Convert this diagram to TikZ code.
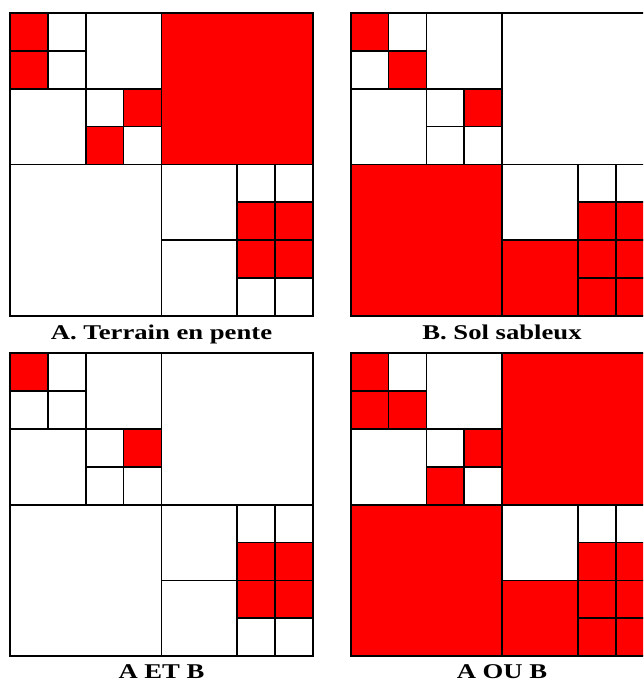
\documentclass[tikz,border=0pt]{standalone}
\usepackage{fontspec}
\setmainfont{Liberation Serif}
\newfontfamily\capfont[FakeStretch=1.27]{Liberation Serif}

% grid lines of the quadtree, in cell units (8 x 8)
\newcommand{\quadlines}{%
    \draw (0,0) rectangle (8,8);
    \draw (4,0) -- (4,8) (0,4) -- (8,4);
    \draw (2,0) -- (2,4) (0,2) -- (4,2);
    \draw (1,0) -- (1,2) (0,1) -- (2,1);
    \draw (3,2) -- (3,4) (2,3) -- (4,3);
    \draw (6,4) -- (6,8) (4,6) -- (8,6);
    \draw (7,4) -- (7,6) (6,5) -- (8,5);
    \draw (7,6) -- (7,8) (6,7) -- (8,7);
}

\begin{document}
\begin{tikzpicture}[x=1pt, y=-1pt,
    cell/.style={fill=red},
    panel/.style={scale=37.85, line width=1.7pt},
    caption/.style={anchor=base, inner sep=0pt, font=\capfont\fontsize{21}{24}\selectfont\bfseries}]
    \clip (0,0) rectangle (643,684);
    \fill[white] (0,0) rectangle (643,684);
    % A. Terrain en pente
    \begin{scope}[shift={(10,13)}, panel]
        \foreach \x/\y/\w in {0/0/1, 0/1/1, 3/2/1, 2/3/1, 4/0/4, 6/5/1, 7/5/1, 6/6/1, 7/6/1}
            \fill[cell] (\x,\y) rectangle ++(\w,\w);
        \quadlines
    \end{scope}
    \node[caption] (capA) at (161.5,339.5) {A. Terrain en pente};
    % B. Sol sableux
    \begin{scope}[shift={(350.7,13)}, panel]
        \foreach \x/\y/\w in {0/0/1, 1/1/1, 3/2/1, 0/4/4, 6/5/1, 7/5/1, 4/6/2, 6/6/2}
            \fill[cell] (\x,\y) rectangle ++(\w,\w);
        \quadlines
    \end{scope}
    \node[caption] (capB) at (502,339.5) {B. Sol sableux};
    % A ET B
    \begin{scope}[shift={(10,353.3)}, panel]
        \foreach \x/\y/\w in {0/0/1, 3/2/1, 6/5/1, 7/5/1, 6/6/1, 7/6/1}
            \fill[cell] (\x,\y) rectangle ++(\w,\w);
        \quadlines
    \end{scope}
    \node[caption] (capET) at (161.5,678.5) {A ET B};
    % A OU B
    \begin{scope}[shift={(350.7,353.3)}, panel]
        \foreach \x/\y/\w in {0/0/1, 0/1/1, 1/1/1, 3/2/1, 2/3/1, 4/0/4, 0/4/4, 6/5/1, 7/5/1, 4/6/2, 6/6/2}
            \fill[cell] (\x,\y) rectangle ++(\w,\w);
        \quadlines
    \end{scope}
    \node[caption] (capOU) at (502,678.5) {A OU B};
\end{tikzpicture}
\end{document}
